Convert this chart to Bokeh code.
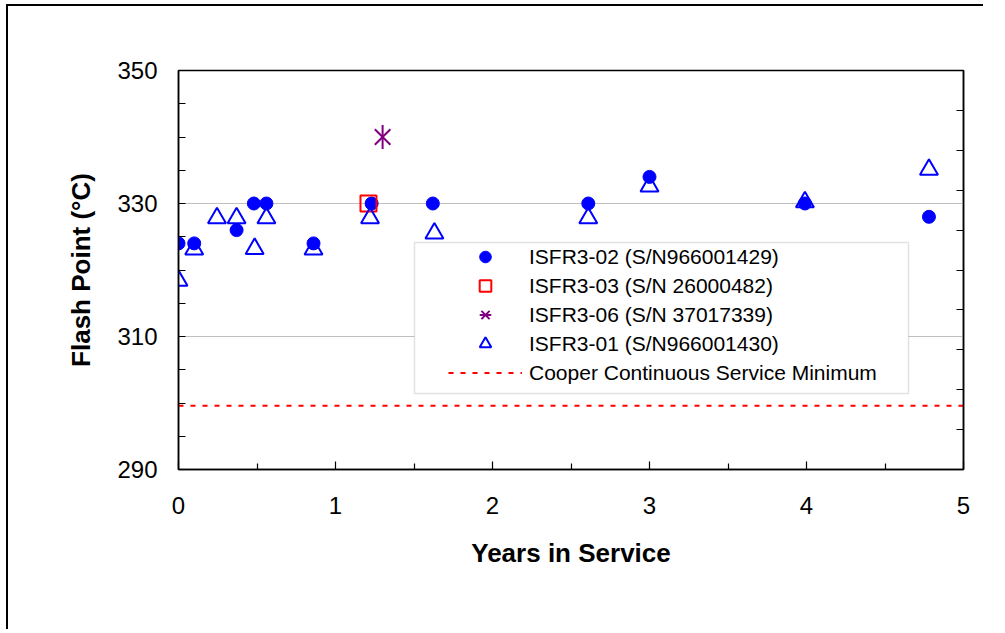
import math
from bokeh.plotting import figure
from bokeh.models import (Range1d, LinearAxis, FixedTicker, Legend, LegendItem,
                          BoxAnnotation)
from bokeh.embed import file_html
from bokeh.resources import INLINE

# ---- data ----
isfr302_years = [0.0, 0.10, 0.37, 0.48, 0.56, 0.86, 1.23, 1.62, 2.61, 3.00, 3.99, 4.78]
isfr302_flash = [324, 324, 326, 330, 330, 324, 330, 330, 330, 334, 330, 328]

isfr303_years = [1.21]
isfr303_flash = [330]

isfr306_years = [1.30]
isfr306_flash = [340]

isfr301_years = [0.0, 0.10, 0.245, 0.37, 0.485, 0.56, 0.86, 1.22, 1.63, 2.61, 3.00, 3.99, 4.78]
isfr301_flash = [318.4, 323.1, 327.8, 327.8, 323.2, 327.8, 323.1, 327.8, 325.5, 327.8, 332.6, 330.2, 335.1]

cooper_years = [0, 5]
cooper_min = [299.6, 299.6]

x_ticks = [0, 1, 2, 3, 4, 5]
y_ticks = [290, 310, 330, 350]
y_minor = [295, 300, 305, 315, 320, 325, 335, 340, 345]
right_ticks = [1, 2, 3, 4, 5, 6, 7, 8, 9]

labels = ["ISFR3-02 (S/N966001429)", "ISFR3-03 (S/N 26000482)",
          "ISFR3-06 (S/N 37017339)", "ISFR3-01 (S/N966001430)",
          "Cooper Continuous Service Minimum"]

FONT = "Liberation Sans"

p = figure(width=977, height=625, output_backend="svg", toolbar_location=None,
           x_range=Range1d(0, 5), y_range=Range1d(290, 350),
           min_border_left=170, min_border_top=64, min_border_right=22,
           min_border_bottom=162)
p.styles = {"margin-left": "6px", "margin-top": "4px",
            "border-left": "2px solid black", "border-top": "2px solid black"}
p.background_fill_color = "white"
p.border_fill_color = "white"
p.outline_line_color = "black"
p.outline_line_width = 1.5

p.extra_y_ranges = {"right": Range1d(0, 10)}

# grid
p.xgrid.visible = False
p.ygrid.ticker = FixedTicker(ticks=[310, 330])
p.ygrid.grid_line_color = "#c0c0c0"
p.ygrid.grid_line_width = 1

# x axis
xa = p.xaxis[0]
xa.ticker = FixedTicker(ticks=x_ticks, minor_ticks=[0.5, 1.5, 2.5, 3.5, 4.5])
xa.axis_label = "Years in Service"
xa.major_tick_in = 8
xa.major_tick_out = 0
xa.minor_tick_in = 6
xa.minor_tick_out = 0
xa.major_label_standoff = 27
xa.axis_label_standoff = 21

# y axis
ya = p.yaxis[0]
ya.ticker = FixedTicker(ticks=y_ticks, minor_ticks=y_minor)
ya.axis_label = "Flash Point (°C)"
ya.major_tick_in = 7
ya.major_tick_out = 0
ya.minor_tick_in = 7
ya.minor_tick_out = 0
ya.major_label_standoff = 21
ya.axis_label_standoff = 18

for ax in (xa, ya):
    ax.axis_line_color = "black"
    ax.axis_line_width = 1.5
    ax.major_tick_line_color = "black"
    ax.minor_tick_line_color = "black"
    ax.major_tick_line_width = 1.2
    ax.minor_tick_line_width = 1.2
    ax.major_label_text_font = FONT
    ax.major_label_text_font_size = "24px"
    ax.major_label_text_color = "black"
    ax.axis_label_text_font = FONT
    ax.axis_label_text_font_size = "26px"
    ax.axis_label_text_font_style = "bold"
    ax.axis_label_text_color = "black"

ra = LinearAxis(y_range_name="right", ticker=FixedTicker(ticks=right_ticks))
ra.major_label_overrides = {t: "" for t in right_ticks}
ra.major_tick_in = 7
ra.major_tick_out = 0
ra.minor_tick_line_color = None
ra.major_tick_line_color = "black"
ra.major_tick_line_width = 1.2
ra.axis_line_color = "black"
ra.axis_line_width = 1.5
p.add_layout(ra, "right")

# legend box
box = BoxAnnotation(left=236, right=730, bottom=76, top=227,
                    left_units="screen", right_units="screen",
                    bottom_units="screen", top_units="screen",
                    fill_color="white", fill_alpha=1.0,
                    line_color="#a0a0a0", line_width=1.5)
p.add_layout(box)

# series
r_cooper = p.line(cooper_years, cooper_min, line_color="red", line_width=2,
                  line_dash="5 7")
r302 = p.scatter(isfr302_years, isfr302_flash, marker="circle", size=13,
                 fill_color="blue", line_color="blue")
r303 = p.scatter(isfr303_years, isfr303_flash, marker="square", size=16,
                 fill_color=None, line_color="red", line_width=2)
r306a = p.scatter(isfr306_years, isfr306_flash, marker="x", size=22,
                  line_color="purple", line_width=2)
r306b = p.scatter(isfr306_years, isfr306_flash, marker="dash", size=24,
                  angle=math.pi / 2, line_color="purple", line_width=2)
r301 = p.scatter(isfr301_years, isfr301_flash, marker="triangle", size=18,
                 fill_color=None, line_color="blue", line_width=2)

legend = Legend(items=[
    LegendItem(label=labels[0], renderers=[r302]),
    LegendItem(label=labels[1], renderers=[r303]),
    LegendItem(label=labels[2], renderers=[r306a, r306b]),
    LegendItem(label=labels[3], renderers=[r301]),
    LegendItem(label=labels[4], renderers=[r_cooper]),
], location=(270, 82))
legend.padding = 0
legend.margin = 0
legend.border_line_alpha = 0
legend.background_fill_alpha = 0
legend.glyph_width = 74
legend.glyph_height = 29
legend.label_height = 29
legend.spacing = 0
legend.label_standoff = 7
legend.label_text_font = FONT
legend.label_text_font_size = "21px"
legend.label_text_color = "black"
p.add_layout(legend)

open("out.html", "w").write(file_html(p, INLINE))
